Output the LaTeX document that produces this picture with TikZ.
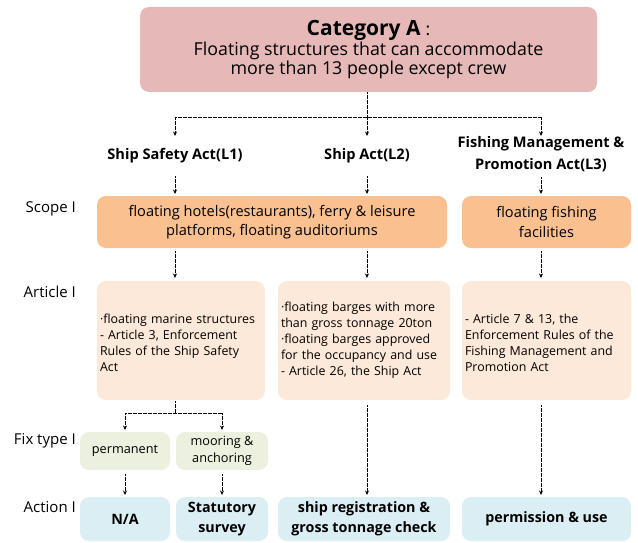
\documentclass[tikz,border=0pt]{standalone}
\usepackage{fontspec}
\setmainfont{Open Sans}
\usetikzlibrary{arrows.meta}
\definecolor{topc}{HTML}{E6B9B8}
\definecolor{scopec}{HTML}{FAC090}
\definecolor{artc}{HTML}{FDE9D9}
\definecolor{fixc}{HTML}{EBF1DE}
\definecolor{actc}{HTML}{DBEEF4}
\tikzset{
  box/.style={rounded corners=9pt, inner sep=3pt, align=center},
  topbox/.style={box, fill=topc, minimum width=457pt, minimum height=85pt},
  scopebox/.style={box, fill=scopec, minimum height=52pt, font=\fontsize{14.6}{19.5}\selectfont},
  artbox/.style={box, fill=artc, minimum height=119pt, align=left, font=\fontsize{12.4}{16}\selectfont},
  fixbox/.style={box, fill=fixc, minimum width=90pt, minimum height=38pt, font=\fontsize{12.7}{17}\selectfont},
  actbox/.style={box, fill=actc, minimum height=44pt, font=\bfseries\fontsize{14.3}{19.5}\selectfont},
  lawlbl/.style={align=center, inner sep=6pt, font=\bfseries\fontsize{14.6}{22}\selectfont},
  sidelbl/.style={anchor=east, inner sep=0pt, font=\fontsize{15}{18}\selectfont},
  conn/.style={line width=0.9pt, dash pattern=on 0.9pt off 0.35pt, -{Stealth[length=4.5pt,width=4pt]}},
  line/.style={line width=0.9pt, dash pattern=on 0.9pt off 0.35pt}
}
\begin{document}
\begin{tikzpicture}[x=1pt,y=-1pt]
\useasboundingbox (0,0) rectangle (638,543);

\node[topbox] (top) at (368.5,49.5) {{\bfseries\fontsize{21}{26}\selectfont Category A}\hspace{5pt}{\fontsize{17.5}{22}\selectfont :}\\[0pt]
{\fontsize{17.8}{24}\selectfont Floating structures that can accommodate}\\
{\fontsize{17.8}{24}\selectfont more than 13 people except crew}};

\node[lawlbl] (l1) at (175,156) {Ship Safety Act(L1)};
\node[lawlbl] (l2) at (367,156) {Ship Act(L2)};
\node[lawlbl, inner sep=3pt] (l3) at (541,154) {Fishing Management \&\\Promotion Act(L3)};

\node[scopebox, minimum width=350pt] (s1) at (272,222) {floating hotels(restaurants), ferry \& leisure\\platforms, floating auditoriums};
\node[scopebox, minimum width=169pt] (s2) at (546.5,222) {floating fishing\\facilities};

\node[artbox, minimum width=168pt, text width=162pt] (a1) at (181,340.5) {\\[-2pt]·floating marine structures\\- Article 3, Enforcement\\Rules of the Ship Safety\\Act};
\node[artbox, minimum width=172pt, text width=166pt] (a2) at (364,340.5) {·floating barges with more\\than gross tonnage 20ton\\·floating barges approved\\for the occupancy and use\\- Article 26, the Ship Act};
\node[artbox, minimum width=169pt, text width=163pt] (a3) at (546.5,340.5) {\\[-2pt]- Article 7 \& 13, the\\Enforcement Rules of the\\Fishing Management and\\Promotion Act};

\node[fixbox] (f1) at (125,451) {permanent};
\node[fixbox, minimum width=92pt] (f2) at (222,451) {mooring \&\\anchoring};

\node[actbox, minimum width=90pt] (c1) at (125,519) {N/A};
\node[actbox, minimum width=92pt] (c2) at (222,519) {Statutory\\survey};
\node[actbox, minimum width=172pt] (c3) at (364,519) {ship registration \&\\gross tonnage check};
\node[actbox, minimum width=169pt] (c4) at (546.5,519) {permission \& use};

\node[sidelbl] (lb1) at (76,209) {Scope I};
\node[sidelbl] (lb2) at (76,292) {Article I};
\node[sidelbl] (lb3) at (76,441) {Fix type I};
\node[sidelbl] (lb4) at (76,507) {Action I};

% top to laws
\coordinate (jt) at (367,117);
\draw[line] (top.south -| jt) -- (jt);
\draw[line] (l1.north |- jt) -- (l3.north |- jt);
\draw[conn] (l1.north |- jt) -- (175,136);
\draw[conn] (jt) -- (367,136);
\draw[conn] (l3.north |- jt) -- (541,136);

% laws to scope
\draw[conn] (175,176) -- (175,194);
\draw[conn] (367,176) -- (367,194);
\draw[conn] (541,177) -- (541,194);

% scope to article
\draw[conn] (175,251) -- (175,278);
\draw[conn] (367,251) -- (367,278);
\draw[conn] (541,251) -- (541,278);

% article 1 to fix
\coordinate (jf) at (175,413);
\draw[line] (175,401) -- (jf);
\draw[line] (f1.north |- jf) -- (f2.north |- jf);
\draw[conn] (f1.north |- jf) -- (125,430);
\draw[conn] (f2.north |- jf) -- (222,430);

% fix to action
\draw[conn] (125,474) -- (125,495);
\draw[conn] (222,474) -- (222,495);

% article to action
\draw[conn] (367,405) -- (367,495);
\draw[conn] (541,405) -- (541,495);
\end{tikzpicture}
\end{document}
